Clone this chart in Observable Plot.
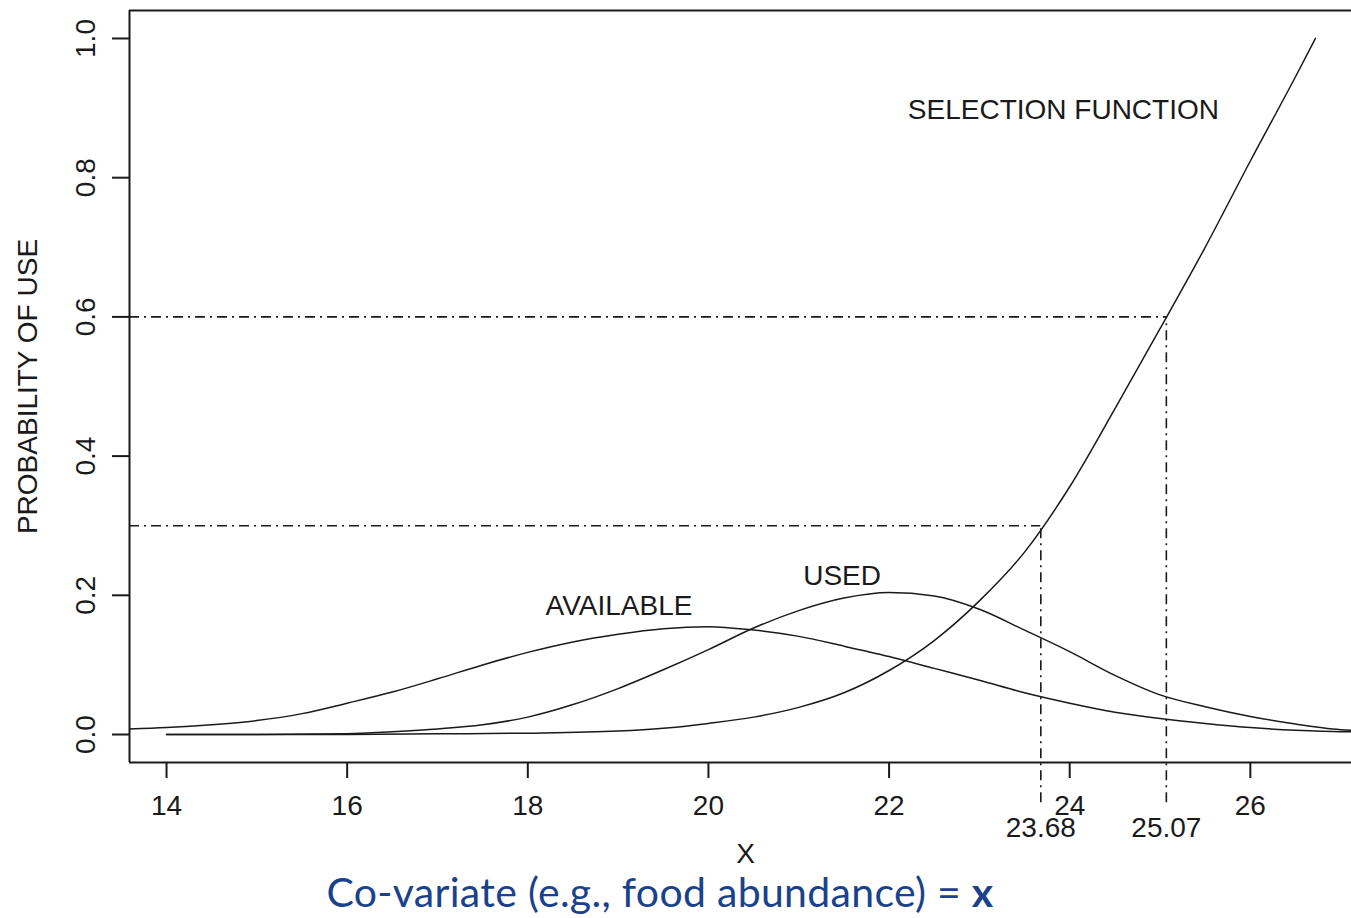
<!DOCTYPE html>
<html>
<head>
<meta charset="utf-8">
<script src="https://cdn.jsdelivr.net/npm/d3@7"></script>
<script src="https://cdn.jsdelivr.net/npm/@observablehq/plot@0.6"></script>
<style>
  html, body { margin: 0; padding: 0; background: #fff; overflow: hidden; }
  #chart svg { display: block; }
  #chart g[aria-label*="axis"] path, #chart g[aria-label*="axis"] line { stroke-width: 2px; }
  #caption { font-family: Lato, "Open Sans", sans-serif; font-size: 41px; color: #1a428a;
             width: 1320px; text-align: center; line-height: 44px; white-space: nowrap; letter-spacing: 0.3px; }
</style>
</head>
<body>
<div id="chart"></div>
<div id="caption">Co-variate (e.g., food abundance) = <b>x</b></div>
<script>
// ---- data ----
const availX = [13.59, 14, 14.5, 15, 15.5, 16, 16.5, 17, 17.5, 18, 18.5, 19, 19.5, 20, 20.5, 21, 21.5, 22, 22.5, 23, 23.5, 24, 24.5, 25, 25.5, 26, 26.5, 27, 27.12];
const availY = [0.008, 0.010, 0.014, 0.020, 0.030, 0.045, 0.061, 0.080, 0.100, 0.118, 0.133, 0.144, 0.152, 0.155, 0.150, 0.141, 0.127, 0.112, 0.095, 0.078, 0.060, 0.045, 0.032, 0.023, 0.016, 0.010, 0.006, 0.004, 0.004];

const usedX = [14, 15, 16, 16.5, 17, 17.5, 18, 18.5, 19, 19.5, 20, 20.5, 21, 21.5, 22, 22.5, 23, 23.5, 24, 24.5, 25, 25.5, 26, 26.5, 27, 27.12];
const usedY = [0.000, 0.000, 0.001, 0.004, 0.008, 0.014, 0.025, 0.043, 0.066, 0.093, 0.122, 0.153, 0.178, 0.196, 0.204, 0.199, 0.180, 0.150, 0.119, 0.085, 0.057, 0.040, 0.026, 0.015, 0.007, 0.006];

const selX = [14, 15, 16, 17, 18, 19, 19.5, 20, 20.5, 21, 21.5, 22, 22.5, 23, 23.5, 24, 24.5, 25, 25.5, 26, 26.5, 26.72];
const selY = [0, 0, 0, 0.001, 0.002, 0.005, 0.009, 0.016, 0.025, 0.039, 0.060, 0.092, 0.135, 0.192, 0.262, 0.356, 0.468, 0.583, 0.700, 0.824, 0.945, 1.0];

const refProb = [0.3, 0.6];          // probability-of-use thresholds
const refX = [23.68, 25.07];         // corresponding x values
const refLabels = ["23.68", "25.07"];

const xTicks = [14, 16, 18, 20, 22, 24, 26];
const yTicks = [0.0, 0.2, 0.4, 0.6, 0.8, 1.0];

const curveLabels = ["SELECTION FUNCTION", "USED", "AVAILABLE"];
const curveLabelX = [23.93, 21.48, 19.01];
const curveLabelY = [0.897, 0.228, 0.185];

const yLabel = "PROBABILITY OF USE";
const xLabel = "X";

// ---- layout ----
const xDomain = [13.59, 27.12];
const yDomain = [-0.0402, 1.0402];
const refBottom = -0.098;  // how far the reference lines extend below the axis

const toRows = (xs, ys) => xs.map((x, i) => ({x, y: ys[i]}));
const font = "Liberation Sans, Arial, sans-serif";
const ink = "#1a1a1a";
const dash = "10,5,2,5";

const chart = Plot.plot({
  width: 1351,
  height: 870,
  marginLeft: 129,
  marginRight: 0,
  marginTop: 10,
  marginBottom: 108,
  style: {fontFamily: font, fontSize: "28px", color: ink, background: "#fff"},
  x: {domain: xDomain, ticks: xTicks, tickSize: 16, tickFormat: () => "", label: null},
  y: {domain: yDomain, ticks: yTicks, tickSize: 17, tickFormat: () => "", label: null},
  marks: [
    // box (left, top, bottom)
    Plot.ruleX([xDomain[0]], {y1: yDomain[0], y2: yDomain[1], stroke: ink, strokeWidth: 2}),
    Plot.ruleY([yDomain[0], yDomain[1]], {stroke: ink, strokeWidth: 2}),
    // reference dash-dot lines
    Plot.ruleY(refProb.map((p, i) => ({p, x2: refX[i]})), {y: "p", x1: xDomain[0], x2: "x2", stroke: ink, strokeWidth: 1.6, strokeDasharray: dash}),
    Plot.ruleX(refX.map((x, i) => ({x, y2: refProb[i]})), {x: "x", y1: refBottom, y2: "y2", stroke: ink, strokeWidth: 1.6, strokeDasharray: dash}),
    // curves
    Plot.line(toRows(availX, availY), {x: "x", y: "y", stroke: ink, strokeWidth: 1.5, curve: "monotone-x", clip: true}),
    Plot.line(toRows(usedX, usedY), {x: "x", y: "y", stroke: ink, strokeWidth: 1.5, curve: "monotone-x", clip: true}),
    Plot.line(toRows(selX, selY), {x: "x", y: "y", stroke: ink, strokeWidth: 1.5, curve: "monotone-x", clip: true}),
    // curve labels
    Plot.text(curveLabels.map((t, i) => ({t, x: curveLabelX[i], y: curveLabelY[i]})), {x: "x", y: "y", text: "t", fill: ink}),
    // tick labels
    Plot.text(xTicks, {x: d => d, y: yDomain[0], text: d => String(d), dy: 44, fill: ink}),
    Plot.text(refX.map((x, i) => ({x, t: refLabels[i]})), {x: "x", y: yDomain[0], text: "t", dy: 66, fill: ink}),
    Plot.text(yTicks, {x: xDomain[0], y: d => d, text: d => d.toFixed(1), rotate: -90, dx: -43, fill: ink}),
    // axis titles
    Plot.text([yLabel], {frameAnchor: "left", textAnchor: "middle", rotate: -90, dx: -101, fill: ink}),
    Plot.text([xLabel], {frameAnchor: "bottom", dy: 100, dx: 5, fill: ink})
  ]
});
document.getElementById("chart").appendChild(chart);
</script>
</body>
</html>
